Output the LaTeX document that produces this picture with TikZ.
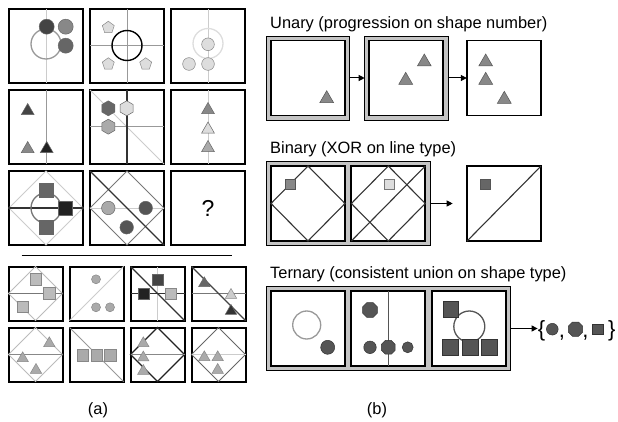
\documentclass[tikz,border=0pt]{standalone}
\usepackage{fontspec}
\setmainfont{Liberation Sans}
\usetikzlibrary{shapes.geometric,arrows.meta,fit,backgrounds}
\definecolor{gK}{HTML}{222222}
\definecolor{g3}{HTML}{333333}
\definecolor{gD}{HTML}{444444}
\definecolor{g5}{HTML}{555555}
\definecolor{g6}{HTML}{666666}
\definecolor{g7}{HTML}{777777}
\definecolor{g8}{HTML}{888888}
\definecolor{g9}{HTML}{999999}
\definecolor{gA}{HTML}{AAAAAA}
\definecolor{gB}{HTML}{BBBBBB}
\definecolor{gC}{HTML}{CCCCCC}
\definecolor{gL}{HTML}{DDDDDD}
\definecolor{frameg}{HTML}{C4C4C4}
\begin{document}
\begin{tikzpicture}[x=1pt,y=-1pt,
  cellL/.style={draw, line width=2pt, minimum size=74pt, inner sep=0pt, outer sep=0pt},
  ansL/.style={draw, line width=2pt, minimum size=54pt, inner sep=0pt, outer sep=0pt},
  boxR/.style={draw, fill=white, line width=1.7pt, minimum width=74pt, minimum height=75pt, inner sep=0pt, outer sep=0pt},
  frameR/.style={draw=black, line width=0.7pt, fill=frameg, inner sep=4.6pt, outer sep=0pt},
  lnL/.style={line width=1pt, draw=gC},
  lnM/.style={line width=1pt, draw=g9},
  lnD/.style={line width=1.1pt, draw=g3},
  ring/.style={circle, draw=#1, line width=1.3pt, minimum size=30pt, inner sep=0pt, outer sep=0pt},
  shp/.style={inner sep=0pt, outer sep=0pt, draw=black!60, line width=0.5pt},
  dotf/.style={shp, circle},
  tri/.style={shp, regular polygon, regular polygon sides=3},
  pent/.style={shp, regular polygon, regular polygon sides=5},
  hexa/.style={shp, regular polygon, regular polygon sides=6, shape border rotate=30},
  octa/.style={shp, regular polygon, regular polygon sides=8},
  sq/.style={shp, rectangle},
  arr/.style={line width=1pt, -{Triangle[length=6pt,width=6pt]}},
  ttl/.style={font=\fontsize{16.4}{19}\selectfont, inner sep=0pt},
  brc/.style={font=\fontsize{22}{24}\selectfont, inner sep=0pt}
]
\useasboundingbox (0,0) rectangle (618,422);

% ---------------- left 3x3 grid ----------------
\node[cellL] (L11) at (46,46) {};
\node[cellL] (L12) at (127,46) {};
\node[cellL] (L13) at (208,46) {};
\node[cellL] (L21) at (46,127) {};
\node[cellL] (L22) at (127,127) {};
\node[cellL] (L23) at (208,127) {};
\node[cellL] (L31) at (46,208) {};
\node[cellL] (L32) at (127,208) {};
\node[cellL, font=\fontsize{23}{25}\selectfont] (L33) at (208,208) {?};

% L11
\draw[lnL] (L11.north) -- (L11.south);
\node[ring=g9] (L11o) at (46,44) {};
\node[dotf, fill=gD, minimum size=15pt] (L11a) at (46.7,26.7) {};
\node[dotf, fill=g8, minimum size=15pt] (L11b) at (65.7,26.7) {};
\node[dotf, fill=g6, minimum size=15pt] (L11c) at (65.7,45.7) {};
% L12
\draw[lnM] (L12.north) -- (L12.south);
\draw[lnM] (L12.west) -- (L12.east);
\node[ring=black, line width=1.4pt] (L12o) at (127,45.5) {};
\node[pent, fill=gL, draw=g8, minimum size=12.5pt] (L12a) at (108.3,27.5) {};
\node[pent, fill=gL, draw=g8, minimum size=12.5pt] (L12b) at (108.3,64) {};
\node[pent, fill=gL, draw=g8, minimum size=12.5pt] (L12c) at (145.7,64) {};
% L13
\draw[lnL] (L13.north) -- (L13.south);
\node[ring=gL] (L13o) at (208,43.5) {};
\node[dotf, fill=gL, draw=g8, minimum size=12.7pt] (L13a) at (208,44.3) {};
\node[dotf, fill=gL, draw=g8, minimum size=12.7pt] (L13b) at (189,64) {};
\node[dotf, fill=gL, draw=g8, minimum size=12.7pt] (L13c) at (208,64) {};
% L21
\draw[lnM] (L21.north) -- (L21.south);
\node[tri, fill=gD, minimum size=15pt] (L21a) at (27.7,111) {};
\node[tri, fill=g8, minimum size=15pt] (L21b) at (27.7,149) {};
\node[tri, fill=gK, minimum size=15pt] (L21c) at (46.7,149) {};
% L22
\draw[lnL] (L22.north west) -- (L22.south east);
\draw[lnM] (L22.west) -- (L22.east);
\draw[lnD] (L22.north) -- (L22.south);
\node[hexa, fill=g6, minimum size=15pt] (L22a) at (108.3,108.3) {};
\node[hexa, fill=gL, minimum size=15pt] (L22b) at (126.7,108.3) {};
\node[hexa, fill=gA, minimum size=15pt] (L22c) at (108.3,126.7) {};
% L23
\draw[lnL] (L23.north) -- (L23.south);
\node[tri, fill=g8, minimum size=15pt] (L23a) at (208,110) {};
\node[tri, fill=gL, minimum size=15pt] (L23b) at (208,129.5) {};
\node[tri, fill=gA, minimum size=15pt] (L23c) at (208,148) {};
% L31
\draw[lnL] (L31.north) -- (L31.east) -- (L31.south) -- (L31.west) -- cycle;
\draw[lnD] (L31.west) -- (L31.east);
\node[ring=g7] (L31o) at (46,208) {};
\node[sq, fill=g6, minimum size=14pt] (L31a) at (46.5,190) {};
\node[sq, fill=g6, minimum size=14pt] (L31b) at (46.5,227) {};
\node[sq, fill=gK, minimum size=14pt] (L31c) at (65.5,208.5) {};
% L32
\draw[lnM, draw=g7] (L32.north) -- (L32.east) -- (L32.south) -- (L32.west) -- cycle;
\draw[lnL] (L32.west) -- (L32.east);
\draw[lnD] (L32.north west) -- (L32.south east);
\node[dotf, fill=gA, minimum size=13.5pt] (L32a) at (108.3,208) {};
\node[dotf, fill=g5, minimum size=13.5pt] (L32b) at (145.7,208) {};
\node[dotf, fill=g5, minimum size=13.5pt] (L32c) at (126.7,227.3) {};

% separator
\draw[line width=1.1pt] (21.7,255.7) -- (231.7,255.7);

% ---------------- answer panels ----------------
\node[ansL] (A1) at (35.5,293.5) {};
\node[ansL] (A2) at (96.5,293.5) {};
\node[ansL] (A3) at (157.5,293.5) {};
\node[ansL] (A4) at (218.5,293.5) {};
\node[ansL] (B1) at (35.5,354.5) {};
\node[ansL] (B2) at (96.5,354.5) {};
\node[ansL] (B3) at (157.5,354.5) {};
\node[ansL] (B4) at (218.5,354.5) {};

% A1
\draw[lnL, draw=gB] (A1.north) -- (A1.east) -- (A1.south) -- (A1.west) -- cycle;
\draw[lnM, draw=g7] (A1.west) -- (A1.east);
\node[sq, fill=gB, draw=g8, minimum size=11.3pt] (A1a) at (36,279.3) {};
\node[sq, fill=gB, draw=g8, minimum size=11.3pt] (A1b) at (49.3,293.3) {};
\node[sq, fill=gB, draw=g8, minimum size=11.3pt] (A1c) at (22.7,306.7) {};
% A2
\draw[lnL] (A2.south west) -- (A2.north east);
\node[dotf, fill=gA, draw=g8, minimum size=9pt] (A2a) at (96,279.3) {};
\node[dotf, fill=gA, draw=g8, minimum size=9pt] (A2b) at (96,307.3) {};
\node[dotf, fill=gA, draw=g8, minimum size=9pt] (A2c) at (110,307.3) {};
% A3
\draw[lnL] (A3.north) -- (A3.south);
\draw[lnD] (A3.north west) -- (A3.south east);
\draw[lnD] (A3.west) -- (A3.east);
\node[sq, fill=gD, minimum size=11pt] (A3a) at (157.3,279.3) {};
\node[sq, fill=gK, minimum size=11pt] (A3b) at (143.3,293.3) {};
\node[sq, fill=gB, draw=g8, minimum size=11pt] (A3c) at (171,293.3) {};
% A4
\draw[lnM, draw=g7] (A4.west) -- (A4.east);
\draw[lnD, draw=gD] (A4.north west) -- (A4.south east);
\node[tri, fill=g6, minimum size=13pt] (A4a) at (204.3,283.3) {};
\node[tri, fill=gC, draw=g8, minimum size=13pt] (A4b) at (231,295) {};
\node[tri, fill=g3, minimum size=13pt] (A4c) at (231,311) {};
% B1
\draw[lnL, draw=gB] (B1.north) -- (B1.east) -- (B1.south) -- (B1.west) -- cycle;
\draw[lnM, draw=g8] (B1.west) -- (B1.east);
\node[tri, fill=gA, draw=g8, minimum size=13pt] (B1a) at (49.3,343.3) {};
\node[tri, fill=gA, draw=g8, minimum size=13pt] (B1b) at (22.7,358.3) {};
\node[tri, fill=gA, draw=g8, minimum size=13pt] (B1c) at (36,370) {};
% B2
\draw[lnM] (B2.north west) -- (B2.south east);
\node[sq, fill=gA, draw=g8, minimum size=11.5pt] (B2a) at (82.7,355) {};
\node[sq, fill=gA, draw=g8, minimum size=11.5pt] (B2b) at (96.7,355) {};
\node[sq, fill=gA, draw=g8, minimum size=11.5pt] (B2c) at (110.3,355) {};
% B3
\draw[lnD, draw=gK] (B3.north) -- (B3.east) -- (B3.south) -- (B3.west) -- cycle;
\draw[lnM, draw=g8] (B3.west) -- (B3.east);
\node[tri, fill=gA, draw=g8, minimum size=13pt] (B3a) at (143.3,343.3) {};
\node[tri, fill=gA, draw=g8, minimum size=13pt] (B3b) at (143.3,357.6) {};
\node[tri, fill=gA, draw=g8, minimum size=13pt] (B3c) at (143.3,371) {};
% B4
\draw[lnM, draw=g6] (B4.north) -- (B4.east) -- (B4.south) -- (B4.west) -- cycle;
\draw[lnL] (B4.west) -- (B4.east);
\node[tri, fill=gA, draw=g8, minimum size=13pt] (B4a) at (204.3,357.3) {};
\node[tri, fill=gA, draw=g8, minimum size=13pt] (B4b) at (217.7,357.3) {};
\node[tri, fill=gA, draw=g8, minimum size=13pt] (B4c) at (217.7,370) {};

% ---------------- right side ----------------
\node[ttl, anchor=base west] (tU) at (270,28.3) {Unary (progression on shape number)};
\node[ttl, anchor=base west] (tB) at (270,153.5) {Binary (XOR on line type)};
\node[ttl, anchor=base west] (tT) at (270,278.3) {Ternary (consistent union on shape type)};

% Unary
\node[boxR] (U1) at (308,78) {};
\node[boxR] (U2) at (406.3,78) {};
\node[boxR] (U3) at (503.8,78) {};
\begin{scope}[on background layer]
\node[frameR, fit=(U1)] (FU1) {};
\node[frameR, fit=(U2)] (FU2) {};
\end{scope}
\draw[arr] (FU1.east) -- (FU2.west);
\draw[arr] (FU2.east) -- (U3.west);
\node[tri, fill=g8, draw=g5, minimum size=16pt] (U1a) at (326.7,98.7) {};
\node[tri, fill=g8, draw=g5, minimum size=16pt] (U2a) at (405.7,80.3) {};
\node[tri, fill=g8, draw=g5, minimum size=16pt] (U2b) at (424.3,62) {};
\node[tri, fill=g8, draw=g5, minimum size=16pt] (U3a) at (485.7,62) {};
\node[tri, fill=g8, draw=g5, minimum size=16pt] (U3b) at (485.7,80.3) {};
\node[tri, fill=g8, draw=g5, minimum size=16pt] (U3c) at (504.3,99.3) {};

% Binary
\node[boxR] (X1) at (308,203.5) {};
\node[boxR] (X2) at (388.3,203.5) {};
\node[boxR] (X3) at (503.8,203.8) {};
\begin{scope}[on background layer]
\node[frameR, fit=(X1)(X2)] (FX) {};
\end{scope}
\coordinate (XE) at (452.7,203.5);
\draw[arr] (FX.east) -- (XE);
\draw[lnD] (X1.north) -- (X1.east) -- (X1.south) -- (X1.west) -- cycle;
\node[sq, fill=g8, draw=g5, minimum size=10pt] (X1a) at (290,184) {};
\draw[lnD] (X2.north) -- (X2.east) -- (X2.south) -- (X2.west) -- cycle;
\draw[lnD] (X2.south west) -- (X2.north east);
\node[sq, fill=gL, draw=g7, minimum size=10pt] (X2a) at (389.3,184) {};
\draw[lnD] (X3.south west) -- (X3.north east);
\node[sq, fill=g6, draw=g5, minimum size=10pt] (X3a) at (485.7,184) {};

% Ternary
\node[boxR] (T1) at (308,328.5) {};
\node[boxR] (T2) at (388.3,328.5) {};
\node[boxR] (T3) at (469.2,328.5) {};
\begin{scope}[on background layer]
\node[frameR, fit=(T1)(T3)] (FT) {};
\end{scope}
\node[ring=g9, minimum size=28pt] (T1o) at (306.7,325) {};
\node[dotf, fill=g5, draw=g3, minimum size=14pt] (T1a) at (327.7,347.3) {};
\draw[lnD, draw=g5] (T2.north) -- (T2.south);
\node[octa, fill=g5, draw=g3, minimum size=16pt] (T2a) at (370,310) {};
\node[dotf, fill=g5, draw=g3, minimum size=12.5pt] (T2b) at (370,347.3) {};
\node[octa, fill=g5, draw=g3, minimum size=15pt] (T2c) at (388.3,347.3) {};
\node[dotf, fill=g5, draw=g3, minimum size=11pt] (T2d) at (407.7,347.3) {};
\node[ring=g5, minimum size=31pt] (T3o) at (469.3,326.5) {};
\node[sq, fill=g5, draw=g3, minimum size=15.7pt] (T3a) at (450.7,309) {};
\node[sq, fill=g5, draw=g3, minimum size=15.5pt] (T3b) at (450,347) {};
\node[sq, fill=g5, draw=g3, minimum size=15.5pt] (T3c) at (470,347) {};
\node[sq, fill=g5, draw=g3, minimum size=15.5pt] (T3d) at (489.3,347) {};

% result set
\node[brc] (Lb) at (541.5,331) {\{};
\draw[arr] (FT.east) -- (FT.east -| Lb.west);
\node[dotf, fill=g5, draw=g3, minimum size=11.7pt] (S1) at (552.3,329.2) {};
\node[brc, anchor=base] (cm1) at (562,337.5) {,};
\node[octa, fill=g5, draw=g3, minimum size=15.5pt] (S2) at (575.5,329.2) {};
\node[brc, anchor=base] (cm2) at (585.3,337.5) {,};
\node[sq, fill=g5, draw=g3, minimum size=10.7pt] (S3) at (598,329.2) {};
\node[brc] (Rb) at (611.8,331) {\}};

% captions
\node[ttl, anchor=base] (capA) at (98,414) {(a)};
\node[ttl, anchor=base] (capB) at (377,414) {(b)};
\end{tikzpicture}
\end{document}
